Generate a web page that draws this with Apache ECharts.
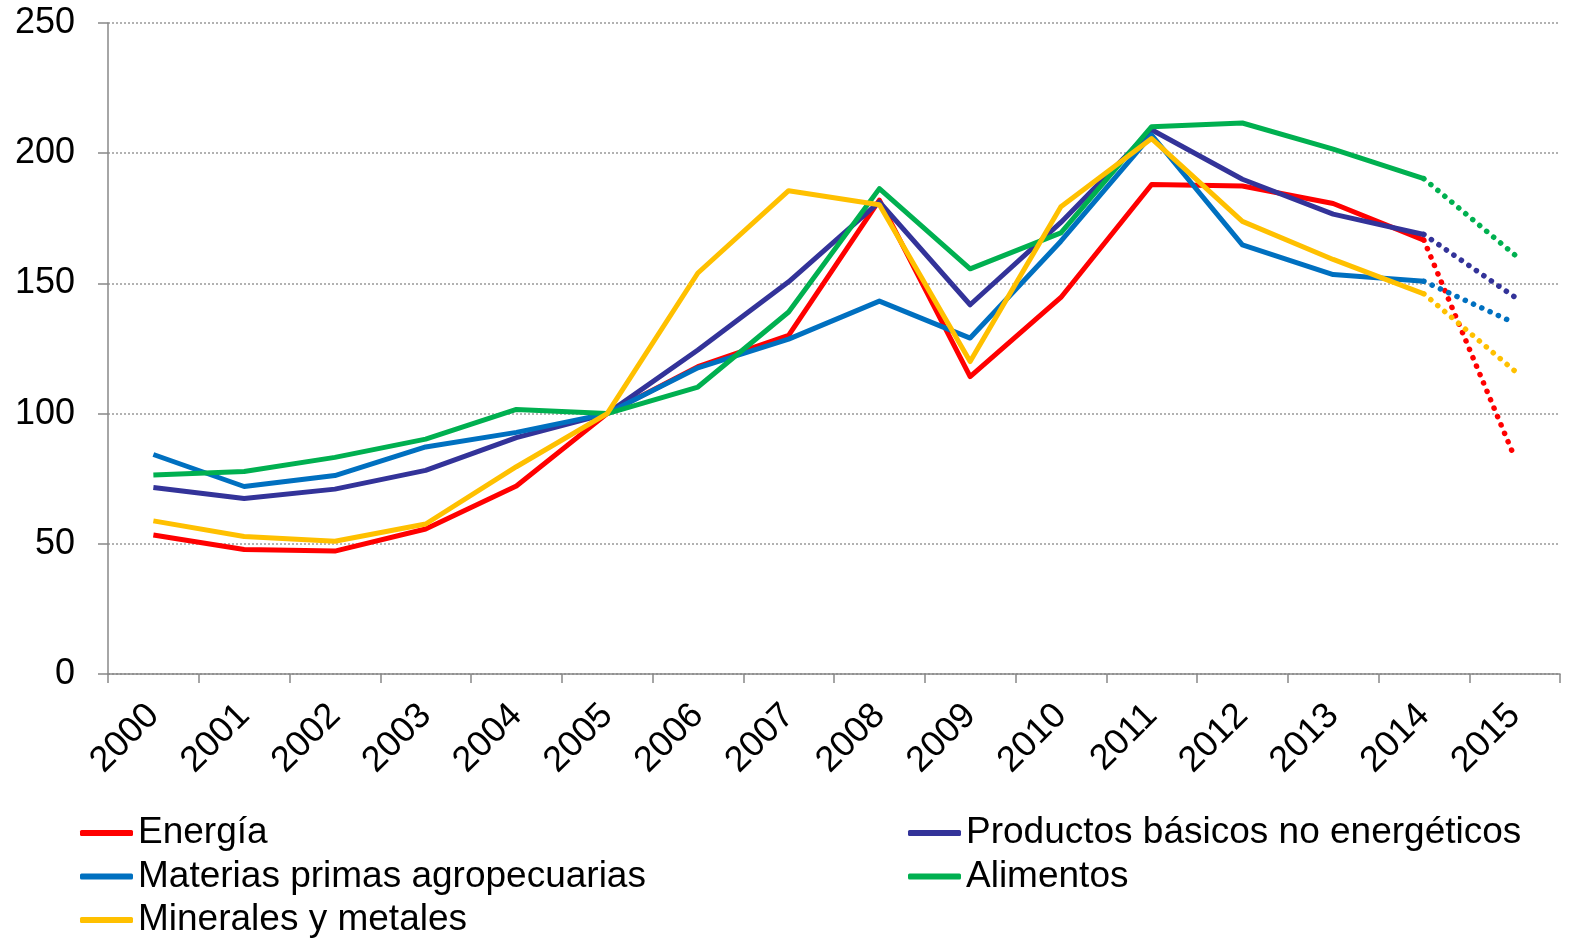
<!DOCTYPE html>
<html>
<head>
<meta charset="utf-8">
<script src="https://cdn.jsdelivr.net/npm/echarts@6/dist/echarts.min.js"></script>
<style>
  html, body { margin: 0; padding: 0; background: #fff; }
  #main { width: 1577px; height: 945px; }
</style>
</head>
<body>
<div id="main"></div>
<script>
// años del eje x
var years = ['2000','2001','2002','2003','2004','2005','2006','2007','2008','2009','2010','2011','2012','2013','2014','2015'];
var yTicks = [0, 50, 100, 150, 200, 250];

// índices (2005 = 100)
var energia    = [53.4, 47.8, 47.2, 55.7, 72.2, 100, 118, 130, 182, 114.2, 144.6, 188, 187.4, 180.7, 166.6, 83.2];
var productos  = [71.6, 67.4, 71.0, 78.2, 90.8, 100, 124.4, 150.6, 181.3, 141.8, 173.4, 209, 190, 176.6, 168.8, 144.8];
var materias   = [84.3, 72.0, 76.2, 87.2, 92.8, 100, 117.6, 128.6, 143.2, 129, 166.2, 207, 164.8, 153.4, 150.8, 134.8];
var alimentos  = [76.4, 77.8, 83.2, 90.2, 101.6, 100, 110.2, 139, 186.4, 155.6, 169.4, 210.2, 211.6, 201.6, 190.2, 161];
var minerales  = [58.8, 52.8, 51.0, 57.6, 79.6, 100, 154, 185.6, 180.2, 120, 179.4, 205.6, 173.8, 159.2, 146, 116.4];

var nombres = ['Energía', 'Productos básicos no energéticos', 'Materias primas agropecuarias', 'Alimentos', 'Minerales y metales'];
var colores = ['#FF0000', '#333399', '#0070C0', '#00B050', '#FFC000'];
var datos = [energia, productos, materias, alimentos, minerales];

var series = [];
var lastIdx = years.length - 1;
for (var i = 0; i < datos.length; i++) {
  var solid = datos[i].map(function (v, k) { return k < lastIdx ? v : null; });
  var dots = datos[i].map(function (v, k) { return k >= lastIdx - 1 ? v : null; });
  series.push({
    name: nombres[i], type: 'line', data: solid, symbol: 'none',
    color: colores[i], z: 2 + i,
    lineStyle: { width: 5, color: colores[i], join: 'round' }
  });
  // tramo proyectado (punteado)
  series.push({
    name: nombres[i] + ' proy', type: 'line', data: dots, symbol: 'none',
    color: colores[i], z: 2 + i,
    lineStyle: { width: 5.5, color: colores[i], type: [0.1, 9], cap: 'round' }
  });
}

var fuente = 'Liberation Sans, Arial, sans-serif';
var legendText = { fontSize: 37, color: '#000', fontFamily: fuente, lineHeight: 40 };

var myChart = echarts.init(document.getElementById('main'));
myChart.setOption({
  animation: false,
  grid: { left: 108, right: 17, top: 23, bottom: 271, containLabel: false },
  legend: [
    {
      data: [nombres[0], nombres[2], nombres[4]],
      orient: 'vertical', left: 80, top: 813, height: 140, padding: 0,
      itemWidth: 53, itemHeight: 6, itemGap: 3.5,
      icon: 'roundRect',
      textStyle: legendText
    },
    {
      data: [nombres[1], nombres[3]],
      orient: 'vertical', left: 908, top: 813, height: 140, padding: 0,
      itemWidth: 53, itemHeight: 6, itemGap: 3.5,
      icon: 'roundRect',
      textStyle: legendText
    }
  ],
  xAxis: {
    type: 'category',
    data: years,
    boundaryGap: true,
    axisLine: { lineStyle: { color: '#888', width: 1.5 } },
    axisTick: { show: true, length: 9, lineStyle: { color: '#888', width: 1.5 } },
    axisLabel: { rotate: 45, fontSize: 36, color: '#000', fontFamily: fuente, margin: 36, interval: 0 }
  },
  yAxis: {
    type: 'value',
    min: yTicks[0], max: yTicks[yTicks.length - 1], interval: 50,
    axisLine: { show: true, lineStyle: { color: '#888', width: 1.5 } },
    axisTick: { show: true, length: 10, lineStyle: { color: '#888', width: 1.5 } },
    axisLabel: { fontSize: 36, color: '#000', fontFamily: fuente, margin: 33 },
    splitLine: { show: true, lineStyle: { color: '#999', width: 1.5, type: [2, 2] } }
  },
  series: series
});
</script>
</body>
</html>
